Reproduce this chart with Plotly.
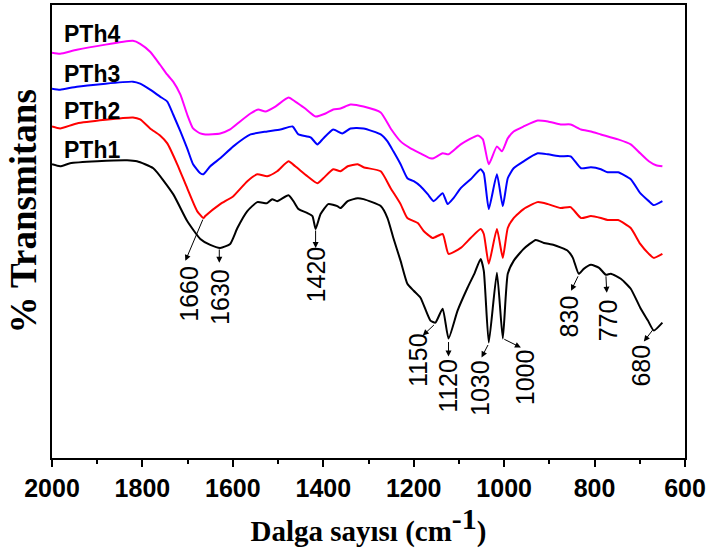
import plotly.graph_objects as go

# FTIR spectra of PTh1-PTh4 (stacked, arbitrary transmittance units)
wn_pth1 = [2000, 1982, 1960, 1900, 1834, 1812, 1776, 1732, 1701, 1672, 1650, 1628, 1606, 1590,
           1568, 1546, 1524, 1513, 1502, 1477, 1466, 1455, 1435, 1424, 1417, 1406, 1389, 1369,
           1362, 1346, 1324, 1311, 1273, 1258, 1245, 1229, 1214, 1200, 1185, 1163, 1152, 1136,
           1123, 1103, 1081, 1065, 1052, 1045, 1034, 1016, 1003, 992, 979, 957, 930, 912, 890,
           859, 848, 835, 824, 808, 790, 775, 764, 742, 720, 699, 682, 669, 650]
t_pth1 = [295, 293, 296, 298, 299, 298, 291, 265, 238, 220, 214, 211, 215, 231,
          248, 257, 256, 260, 258, 264, 258, 250, 246, 243, 230, 245, 255, 253,
          251, 258, 261, 260, 253, 241, 221, 198, 175, 168, 161, 138, 136, 150,
          120, 148, 171, 186, 200, 188, 116, 186, 120, 185, 198, 210, 219, 216, 214,
          208, 201, 185, 190, 194, 191, 184, 185, 180, 170, 151, 138, 128, 136]

wn_pth2 = [2000, 1982, 1945, 1821, 1805, 1783, 1761, 1745, 1723, 1701, 1679, 1665, 1661, 1628,
           1599, 1568, 1546, 1524, 1502, 1477, 1462, 1435, 1413, 1400, 1378, 1362, 1346, 1324,
           1311, 1273, 1251, 1229, 1214, 1191, 1178, 1158, 1136, 1123, 1096, 1074, 1052, 1045,
           1034, 1016, 1003, 992, 979, 957, 926, 903, 875, 853, 830, 808, 786, 771, 748, 720,
           699, 680, 669, 650]
t_pth2 = [333, 331, 336, 342, 340, 331, 324, 316, 295, 271, 248, 241, 243, 255,
          263, 278, 285, 283, 288, 298, 293, 283, 276, 281, 290, 288, 293, 295,
          292, 288, 271, 255, 241, 236, 228, 221, 225, 205, 211, 221, 230, 225,
          195, 230, 201, 231, 241, 250, 257, 255, 251, 252, 241, 243, 241, 239, 239, 231,
          215, 205, 201, 205]

wn_pth3 = [2000, 1982, 1945, 1821, 1805, 1783, 1761, 1745, 1732, 1716, 1701, 1688, 1672, 1665,
           1650, 1628, 1599, 1561, 1524, 1495, 1468, 1455, 1428, 1413, 1400, 1378, 1358, 1340,
           1311, 1273, 1258, 1245, 1229, 1214, 1200, 1185, 1169, 1156, 1136, 1125, 1112, 1096,
           1074, 1052, 1045, 1034, 1016, 1003, 992, 979, 957, 926, 903, 875, 853, 830, 808,
           786, 771, 748, 720, 699, 680, 669, 650]
t_pth3 = [371, 370, 373, 378, 376, 370, 363, 358, 345, 328, 311, 295, 286, 285,
          293, 301, 313, 325, 328, 330, 333, 325, 322, 315, 321, 330, 326, 331,
          331, 325, 318, 308, 295, 281, 278, 273, 265, 258, 266, 255, 261, 271,
          280, 290, 286, 250, 285, 253, 281, 291, 298, 306, 305, 303, 303, 291, 292,
          290, 287, 287, 280, 266, 258, 254, 258]

wn_pth4 = [2000, 1982, 1945, 1821, 1805, 1783, 1761, 1745, 1732, 1716, 1701, 1688, 1672, 1661,
           1628, 1606, 1584, 1561, 1544, 1528, 1506, 1477, 1462, 1440, 1417, 1395, 1378, 1362,
           1340, 1311, 1273, 1251, 1229, 1207, 1185, 1163, 1156, 1136, 1123, 1096, 1058, 1047,
           1034, 1016, 1005, 992, 979, 957, 926, 903, 875, 853, 830, 808, 786, 748, 720, 699,
           680, 664, 650]
t_pth4 = [407, 406, 410, 419, 416, 408, 395, 385, 378, 365, 345, 331, 326, 325,
          326, 330, 338, 346, 350, 348, 353, 362, 358, 351, 343, 346, 350, 351,
          355, 353, 347, 331, 318, 311, 306, 301, 301, 306, 305, 315, 324, 320,
          295, 313, 308, 321, 328, 333, 339, 338, 335, 335, 330, 328, 325, 320, 315, 306,
          298, 294, 293]

series_names = ["PTh1", "PTh2", "PTh3", "PTh4"]
series_colors = ["#000000", "#FF0000", "#0000FF", "#FF00FF"]

# series name labels placed at the left end of each trace
label_wn = [1911, 1911, 1911, 1911]
label_t = [309, 349, 386, 426]

# band assignments: label text, band position on the trace, arrow tip, label centre
band_text = ["1660", "1630", "1420", "1150", "1120", "1030", "1000", "830", "770", "680"]
band_wn = [1665, 1630, 1417, 1152, 1123, 1034, 1003, 835, 775, 669]
band_t = [241, 211, 230, 135, 118, 115, 120, 184, 184, 130]
tip_wn = [1705, 1630, 1417, 1180, 1123, 1050, 963, 852, 773, 691]
tip_t = [198, 196, 211, 123, 102, 101, 111, 168, 166, 117]
text_wn = [1697, 1628, 1417, 1189, 1123, 1052, 952, 857, 771, 697]
text_t = [165, 162, 184, 98, 72, 70, 81, 142, 138, 93]

fig = go.Figure()
for wn, t, name, color in zip([wn_pth1, wn_pth2, wn_pth3, wn_pth4],
                              [t_pth1, t_pth2, t_pth3, t_pth4],
                              series_names, series_colors):
    fig.add_trace(go.Scatter(x=wn, y=t, mode="lines", name=name,
                             line=dict(color=color, width=2, shape="spline", smoothing=0.5)))

annotations = []
for name, x, y in zip(series_names, label_wn, label_t):
    annotations.append(dict(x=x, y=y, xref="x", yref="y", text="<b>%s</b>" % name,
                            showarrow=False, xanchor="center", yanchor="middle",
                            font=dict(family="Arial, Liberation Sans", size=23, color="black")))

for txt, bx, by, hx, hy, tx, ty in zip(band_text, band_wn, band_t, tip_wn, tip_t, text_wn, text_t):
    annotations.append(dict(x=hx, y=hy, xref="x", yref="y", ax=bx, ay=by,
                            axref="x", ayref="y", text="", showarrow=True,
                            arrowhead=2, arrowsize=1.2, arrowwidth=1, arrowcolor="black",
                            standoff=0, startstandoff=0))
    annotations.append(dict(x=tx, y=ty, xref="x", yref="y", text=txt, textangle=-90,
                            showarrow=False, xanchor="center", yanchor="middle",
                            font=dict(family="Arial, Liberation Sans", size=25, color="black")))

# y-axis title
annotations.append(dict(x=-0.045, y=0.543, xref="paper", yref="paper",
                        text="<b>% Transmitans</b>", textangle=-90, showarrow=False,
                        xanchor="center", yanchor="middle",
                        font=dict(family="Times New Roman, Liberation Serif", size=37, color="black")))

fig.update_layout(
    width=711, height=548,
    margin=dict(l=52, r=26, t=3, b=90),
    plot_bgcolor="white", paper_bgcolor="white",
    showlegend=False,
    annotations=annotations,
    xaxis=dict(
        range=[2000, 600], showgrid=False, zeroline=False,
        showline=True, linecolor="black", linewidth=2, mirror=True,
        tickmode="array", tickvals=[2000, 1800, 1600, 1400, 1200, 1000, 800, 600],
        ticktext=["2000", "1800", "1600", "1400", "1200", "1000", "800", "600"],
        ticks="outside", ticklen=7, tickwidth=2, tickcolor="black",
        minor=dict(dtick=100, ticks="outside", ticklen=4, tickwidth=2, tickcolor="black"),
        tickfont=dict(family="Arial, Liberation Sans", size=25, color="black", weight="bold"),
        title=dict(text="<b>Dalga sayısı (cm<sup><span style='font-size:30px'>-1</span></sup>)</b>",
                   font=dict(family="Times New Roman, Liberation Serif", size=29, color="black"),
                   standoff=6),
    ),
    yaxis=dict(
        range=[0, 455], showgrid=False, zeroline=False,
        showline=True, linecolor="black", linewidth=2, mirror=True,
        showticklabels=False, ticks="",
    ),
)

fig.write_html("out.html")
